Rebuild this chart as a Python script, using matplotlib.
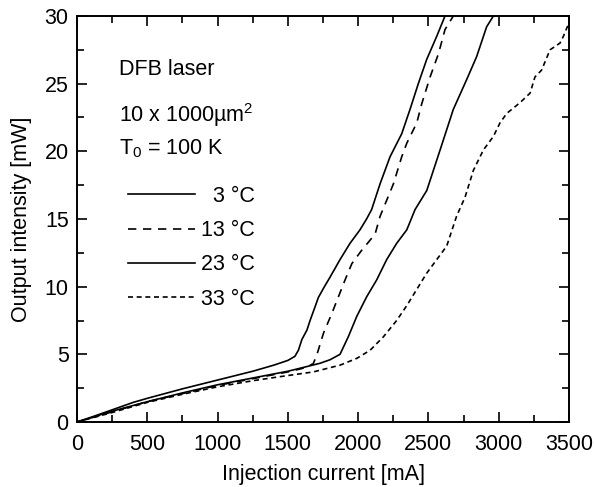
import matplotlib
matplotlib.use("Agg")
import matplotlib.pyplot as plt
from matplotlib import font_manager
from matplotlib.ticker import MultipleLocator

names = {f.name for f in font_manager.fontManager.ttflist}
FONT = "Liberation Sans Narrow" if "Liberation Sans Narrow" in names else "Liberation Sans"
plt.rcParams['font.family'] = [FONT, 'DejaVu Sans']
plt.rcParams['mathtext.fontset'] = 'custom'
plt.rcParams['mathtext.rm'] = FONT
plt.rcParams['mathtext.it'] = FONT

# ---- data ----
t3_x = [0, 100, 250, 400, 500, 750, 1000, 1250, 1400, 1500, 1550, 1575, 1600, 1636, 1658, 1693, 1717,
        1760, 1800, 1871, 1942, 2013, 2060, 2096, 2156, 2227, 2310, 2369, 2428, 2488, 2559, 2618]
t3_y = [0, 0.35, 0.9, 1.45, 1.75, 2.45, 3.1, 3.75, 4.2, 4.55, 4.85, 5.3, 6.1, 6.8, 7.5, 8.5, 9.2,
        10.0, 10.7, 12.0, 13.2, 14.2, 15.0, 15.7, 17.6, 19.6, 21.3, 23.1, 25.0, 26.8, 28.5, 30]

t13_x = [0, 250, 500, 750, 1000, 1250, 1500, 1600, 1680, 1706, 1753, 1812, 1860, 1907, 1955, 2026,
         2090, 2121, 2156, 2180, 2251, 2310, 2346, 2417, 2452, 2512, 2571, 2618, 2677]
t13_y = [0, 0.75, 1.5, 2.1, 2.7, 3.2, 3.7, 3.95, 4.3, 4.95, 6.55, 8.0, 9.26, 10.5, 11.7, 12.7,
         13.5, 13.9, 15.2, 15.8, 17.6, 19.6, 20.6, 22.1, 23.5, 25.5, 27.2, 29.0, 30]

t23_x = [0, 250, 500, 750, 1000, 1250, 1500, 1586, 1729, 1800, 1871, 1930, 1990, 2061, 2132, 2203,
         2274, 2346, 2405, 2488, 2583, 2677, 2772, 2843, 2914, 2962]
t23_y = [0, 0.8, 1.5, 2.15, 2.75, 3.25, 3.75, 3.97, 4.34, 4.6, 5.0, 6.3, 7.8, 9.26, 10.5, 12.0,
         13.2, 14.2, 15.7, 17.1, 20.1, 23.1, 25.3, 27.0, 29.2, 30]

t33_x = [0, 250, 500, 750, 1000, 1250, 1444, 1681, 1871, 1990, 2085, 2180, 2274, 2346, 2417, 2488,
         2559, 2630, 2700, 2760, 2820, 2891, 2962, 3009, 3057, 3152, 3223, 3258, 3305, 3365, 3436,
         3460, 3500]
t33_y = [0, 0.7, 1.45, 2.05, 2.6, 3.05, 3.35, 3.7, 4.2, 4.7, 5.3, 6.3, 7.5, 8.6, 9.8, 11.0,
         12.0, 13.0, 15.2, 16.6, 18.6, 20.1, 21.1, 22.1, 22.8, 23.6, 24.3, 25.5, 26.0, 27.5, 28.0,
         28.5, 29.5]

labels = ["  3 °C", "13 °C", "23 °C", "33 °C"]
x_ticks = [0, 500, 1000, 1500, 2000, 2500, 3000, 3500]
y_ticks = [0, 5, 10, 15, 20, 25, 30]

FS = 15.5
fig = plt.figure(figsize=(5.94, 4.87), dpi=100)
ax = fig.add_axes([77/594, 1-422/487, 492/594, 406/487])

lw = 1.2
ax.plot(t3_x, t3_y, color='black', lw=lw, ls='-', label=labels[0])
ax.plot(t13_x, t13_y, color='black', lw=lw, ls=(0, (5, 4)), label=labels[1])
ax.plot(t23_x, t23_y, color='black', lw=lw, ls='-', label=labels[2])
ax.plot(t33_x, t33_y, color='black', lw=lw, ls=(0, (3, 2.2)), label=labels[3])

ax.set_xlim(0, 3500)
ax.set_ylim(0, 30)
ax.set_xticks(x_ticks)
ax.set_yticks(y_ticks)
ax.xaxis.set_minor_locator(MultipleLocator(250))
ax.yaxis.set_minor_locator(MultipleLocator(2.5))
ax.tick_params(which='both', direction='in', top=True, right=True, width=1.2, labelsize=FS)
ax.tick_params(which='major', length=7)
ax.tick_params(which='minor', length=5)
ax.tick_params(axis='x', which='major', pad=9)
ax.tick_params(axis='y', which='major', pad=6)
for s in ax.spines.values():
    s.set_linewidth(1.4)

ax.set_xlabel("Injection current [mA]", fontsize=FS, labelpad=6)
ax.set_ylabel("Output intensity [mW]", fontsize=FS, labelpad=9)

ax.text(0.085, 0.867, "DFB laser", transform=ax.transAxes, fontsize=FS, va='center', ha='left')
ax.text(0.085, 0.757, "10 x 1000µm$^2$", transform=ax.transAxes, fontsize=FS, va='center', ha='left')
ax.text(0.085, 0.672, "T$_0$ = 100 K", transform=ax.transAxes, fontsize=FS, va='center', ha='left')

ax.legend(loc='upper left', bbox_to_anchor=(0.104, 0.582), frameon=False, fontsize=FS,
          handlelength=3.1, handletextpad=0.3, labelspacing=0.62, borderpad=0, borderaxespad=0)

fig.savefig("out.png", dpi=100)
